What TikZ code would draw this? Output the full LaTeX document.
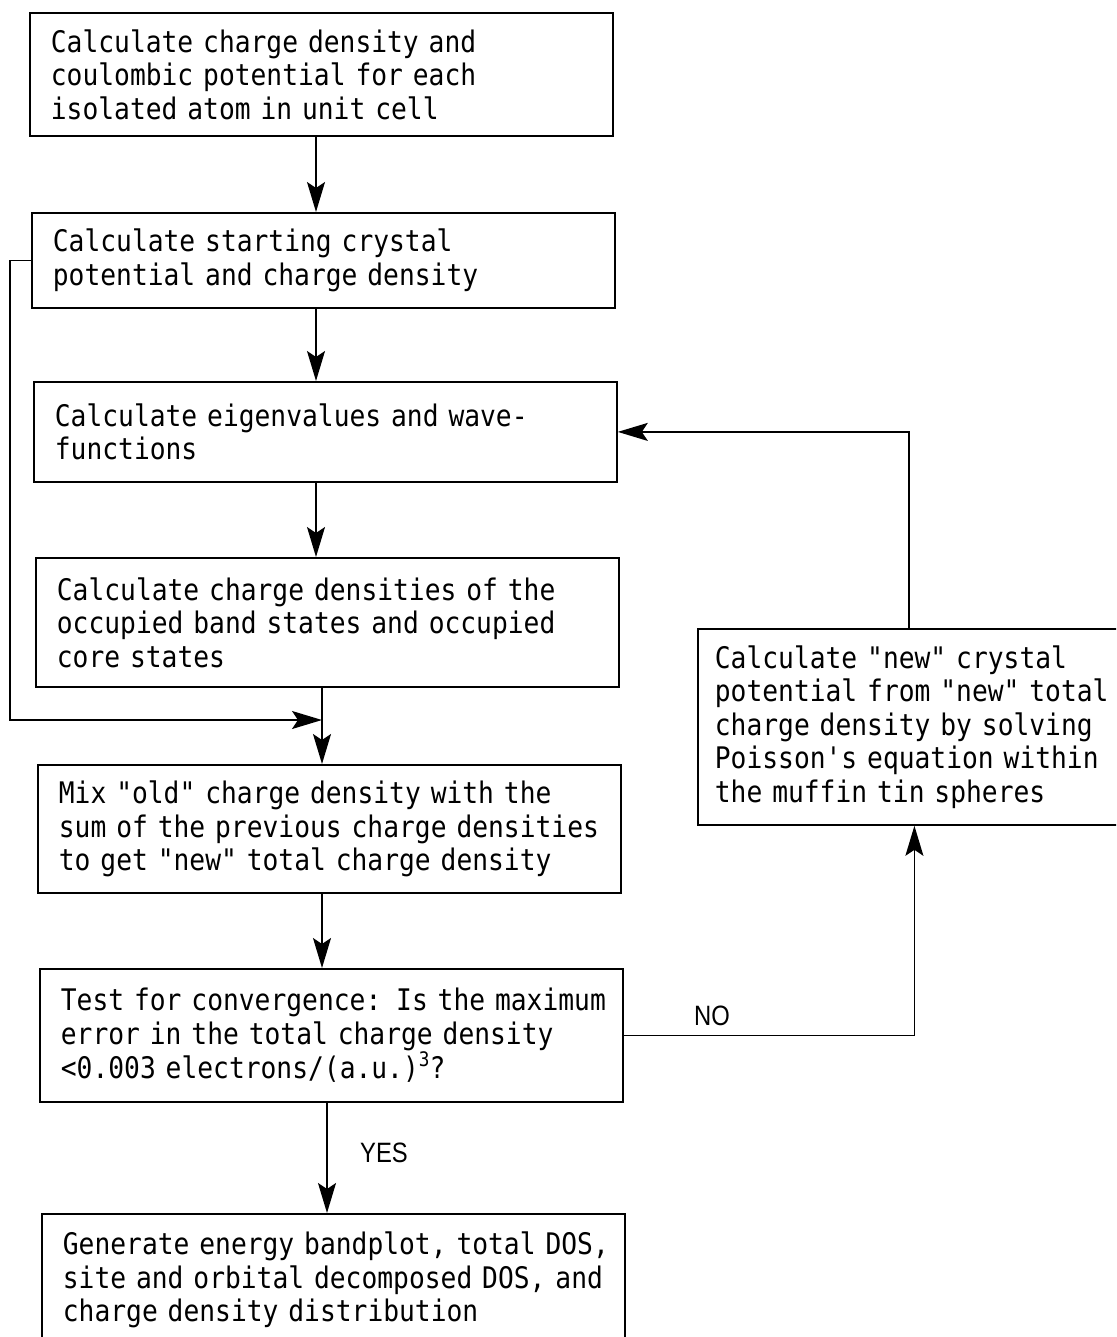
\documentclass[tikz,border=0pt]{standalone}
\usepackage{fontspec}
\usetikzlibrary{arrows.meta}
\newfontfamily\monof[FakeStretch=0.885,Ligatures=TeXOff]{DejaVu Sans Mono}
\newfontfamily\labf[FakeStretch=0.85]{Liberation Sans}
\newcommand\myln[1]{\mbox{#1}}
\begin{document}
\begin{tikzpicture}[x=1pt,y=-1pt,
 box/.style={draw, line width=1.8pt, anchor=north west, inner xsep=21pt, inner ysep=0pt, align=left,
   font=\monof\fontsize{29.7}{33.5}\selectfont},
 arr/.style={line width=1.5pt, -{Stealth[length=30pt,width=18pt,inset=6pt]}},
 lbl/.style={font=\labf\fontsize{28}{28}\selectfont}]
\useasboundingbox (0,0) rectangle (1116,1337);
\clip (0,0) rectangle (1116,1337);
\node[box, text width=541pt, minimum height=123pt] (b1) at (29,12)
 {\myln{Calculate charge density and}\\\myln{coulombic potential for each}\\\myln{isolated atom in unit cell}};
\node[box, text width=541pt, minimum height=95pt] (b2) at (31,212)
 {\myln{Calculate starting crystal}\\\myln{potential and charge density}};
\node[box, text width=541pt, minimum height=100pt] (b3) at (33,381)
 {\myln{Calculate eigenvalues and wave-}\\\myln{functions}};
\node[box, text width=541pt, minimum height=129pt] (b4) at (35,557)
 {\myln{Calculate charge densities of the}\\\myln{occupied band states and occupied}\\\myln{core states}};
\node[box, text width=541pt, minimum height=128pt] (b5) at (37,764)
 {\myln{Mix "old" charge density with the}\\\myln{sum of the previous charge densities}\\\myln{to get "new" total charge density}};
\node[box, text width=541pt, minimum height=133pt] (b6) at (39,968)
 {\myln{Test for convergence: Is the maximum}\\\myln{error in the total charge density}\\\myln{<0.003 electrons/(a.u.)\raisebox{0.42em}{\fontsize{20}{20}\selectfont 3}?}};
\node[box, text width=541pt, minimum height=132pt] (b7) at (41,1213)
 {\myln{Generate energy bandplot, total DOS,}\\\myln{site and orbital decomposed DOS, and}\\\myln{charge density distribution}};
\node[box, inner xsep=17pt, text width=399pt, minimum height=196pt] (rb) at (697,628)
 {\myln{Calculate "new" crystal}\\\myln{potential from "new" total}\\\myln{charge density by solving}\\\myln{Poisson's equation within}\\\myln{the muffin tin spheres}};
\coordinate (mx) at (316,0);
\coordinate (j) at (322,720);
\coordinate (yx) at (327,0);
\coordinate (tx) at (909,0);
\draw[arr] (b1.south -| mx) -- (b2.north -| mx);
\draw[arr] (b2.south -| mx) -- (b3.north -| mx);
\draw[arr] (b3.south -| mx) -- (b4.north -| mx);
\draw[arr] (b4.south -| j) -- (b5.north -| j);
\draw[arr] (b2.west) -| (10,720) -- (j);
\draw[arr] (b5.south -| j) -- (b6.north -| j);
\draw[arr] (b6.south -| yx) -- (b7.north -| yx);
\draw[arr] (b6.east) -| (rb.south);
\draw[arr] (rb.north -| tx) |- (b3.east);
\node[lbl] (no) at (712,1016) {NO};
\node[lbl] (yes) at (384,1153) {YES};
\end{tikzpicture}
\end{document}
